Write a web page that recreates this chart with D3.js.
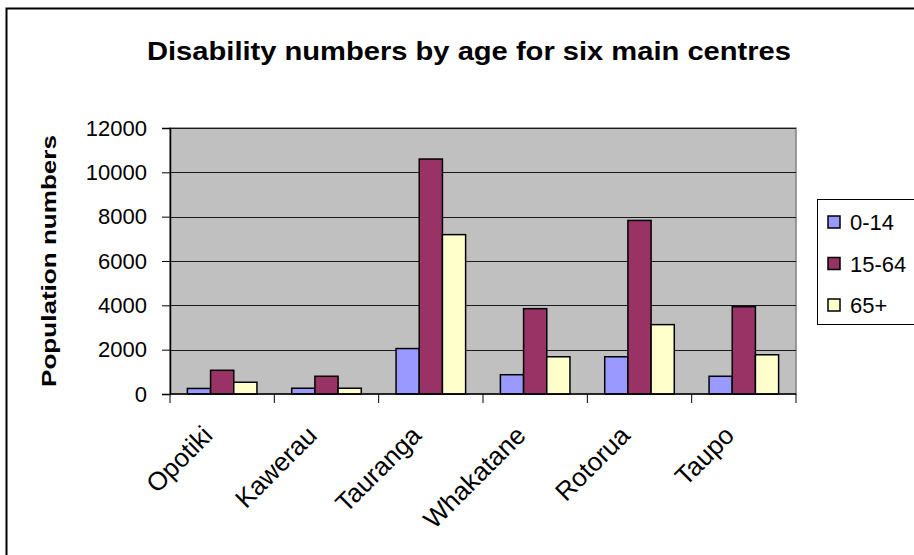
<!DOCTYPE html>
<html>
<head>
    <meta charset="utf-8">
    <title>Disability numbers by age</title>
    <script src="https://d3js.org/d3.v7.min.js"></script>
    <style>
        body { margin: 0; background: #fff; }
        text { font-family: "Liberation Sans", Arial, sans-serif; fill: #000; }
    </style>
</head>
<body>
    <script>
        // chart data
        var categories = ["Opotiki", "Kawerau", "Tauranga", "Whakatane", "Rotorua", "Taupo"];
        var ageGroups = ["0-14", "15-64", "65+"];
        var age0to14 = [250, 260, 2050, 870, 1680, 800];
        var age15to64 = [1070, 800, 10600, 3850, 7830, 3940];
        var age65plus = [530, 260, 7190, 1680, 3130, 1770];
        var yTicks = [0, 2000, 4000, 6000, 8000, 10000, 12000];
        var colors = ["#9999FF", "#993366", "#FFFFCC"];

        var width = 914, height = 555;
        var plot = {left: 170, top: 128, right: 796, bottom: 394};

        var seriesValues = [age0to14, age15to64, age65plus];
        var rows = categories.map(function(c, i) {
            return {cat: c, values: ageGroups.map(function(g, j) { return {age: g, value: seriesValues[j][i], idx: j}; })};
        });

        var svg = d3.select("body").append("svg")
            .attr("width", width)
            .attr("height", height);

        // outer chart border
        svg.append("rect")
            .attr("x", 6.5).attr("y", 8.5)
            .attr("width", 930).attr("height", 570)
            .attr("fill", "#fff")
            .attr("stroke", "#000")
            .attr("stroke-width", 2);

        var x = d3.scaleBand()
            .domain(categories)
            .range([plot.left, plot.right]);

        var bw = x.bandwidth();
        var barW = bw / 4.5;
        var xInner = d3.scaleBand()
            .domain(ageGroups)
            .range([barW * 0.75, bw - barW * 0.75]);

        var y = d3.scaleLinear()
            .domain([0, 12000])
            .range([plot.bottom, plot.top]);

        // plot area
        svg.append("rect")
            .attr("x", plot.left).attr("y", plot.top)
            .attr("width", plot.right - plot.left)
            .attr("height", plot.bottom - plot.top)
            .attr("fill", "#C0C0C0")
            .attr("stroke", "#808080")
            .attr("stroke-width", 1.5);

        // gridlines
        svg.append("g").selectAll("line")
            .data(yTicks.slice(1))
            .enter().append("line")
            .attr("x1", plot.left).attr("x2", plot.right)
            .attr("y1", function(d) { return Math.round(y(d)) + 0.5; })
            .attr("y2", function(d) { return Math.round(y(d)) + 0.5; })
            .attr("stroke", "#1a1a1a")
            .attr("stroke-width", 1);

        // bars
        var groups = svg.append("g").selectAll("g")
            .data(rows)
            .enter().append("g")
            .attr("transform", function(d) { return "translate(" + x(d.cat) + ",0)"; });

        groups.selectAll("rect")
            .data(function(d) { return d.values; })
            .enter().append("rect")
            .attr("x", function(d) { return xInner(d.age); })
            .attr("y", function(d) { return y(d.value); })
            .attr("width", xInner.bandwidth())
            .attr("height", function(d) { return plot.bottom - y(d.value); })
            .attr("fill", function(d) { return colors[d.idx]; })
            .attr("stroke", "#000")
            .attr("stroke-width", 1.5);

        // y axis
        var yAxis = svg.append("g")
            .attr("transform", "translate(" + plot.left + ",0)")
            .call(d3.axisLeft(y).tickValues(yTicks).tickSize(8).tickPadding(15).tickFormat(d3.format("d")));
        yAxis.select(".domain").attr("stroke", "#000").attr("stroke-width", 1.5);
        yAxis.selectAll(".tick line").attr("stroke", "#000");
        yAxis.selectAll("text")
            .style("font-size", "22px")
            .style("font-family", "'Liberation Sans', Arial, sans-serif");

        // x axis line and boundary ticks
        svg.append("line")
            .attr("x1", plot.left).attr("x2", plot.right)
            .attr("y1", plot.bottom).attr("y2", plot.bottom)
            .attr("stroke", "#000").attr("stroke-width", 1.5);
        var bounds = categories.map(function(c) { return x(c); }).concat([plot.right]);
        svg.append("g").selectAll("line")
            .data(bounds)
            .enter().append("line")
            .attr("x1", function(d) { return d; }).attr("x2", function(d) { return d; })
            .attr("y1", plot.bottom).attr("y2", plot.bottom + 9)
            .attr("stroke", "#000");

        // rotated category labels
        svg.append("g").selectAll("text")
            .data(categories)
            .enter().append("text")
            .attr("transform", function(d) { return "translate(" + (x(d) + bw / 2 - 8) + ",437) rotate(-45)"; })
            .attr("text-anchor", "end")
            .style("font-size", "26px")
            .text(function(d) { return d; });

        // title
        svg.append("text")
            .attr("x", 469).attr("y", 60)
            .attr("text-anchor", "middle")
            .attr("textLength", 644)
            .attr("lengthAdjust", "spacingAndGlyphs")
            .style("font-size", "25px")
            .style("font-weight", "bold")
            .text("Disability numbers by age for six main centres");

        // y axis title
        svg.append("text")
            .attr("transform", "translate(56,261) rotate(-90)")
            .attr("text-anchor", "middle")
            .attr("textLength", 252)
            .attr("lengthAdjust", "spacingAndGlyphs")
            .style("font-size", "21px")
            .style("font-weight", "bold")
            .text("Population numbers");

        // legend
        var legend = svg.append("g");
        legend.append("rect")
            .attr("x", 817.5).attr("y", 199.5)
            .attr("width", 120).attr("height", 125)
            .attr("fill", "#fff")
            .attr("stroke", "#000");
        var legendY = d3.scalePoint().domain(ageGroups).range([222, 305]);
        var items = legend.selectAll("g.item")
            .data(ageGroups)
            .enter().append("g")
            .attr("class", "item")
            .attr("transform", function(d) { return "translate(0," + legendY(d) + ")"; });
        items.append("rect")
            .attr("x", 828).attr("y", -6)
            .attr("width", 12).attr("height", 12)
            .attr("fill", function(d, i) { return colors[i]; })
            .attr("stroke", "#000")
            .attr("stroke-width", 1.5);
        items.append("text")
            .attr("x", 850).attr("y", 8)
            .style("font-size", "22px")
            .text(function(d) { return d; });
    </script>
</body>
</html>
